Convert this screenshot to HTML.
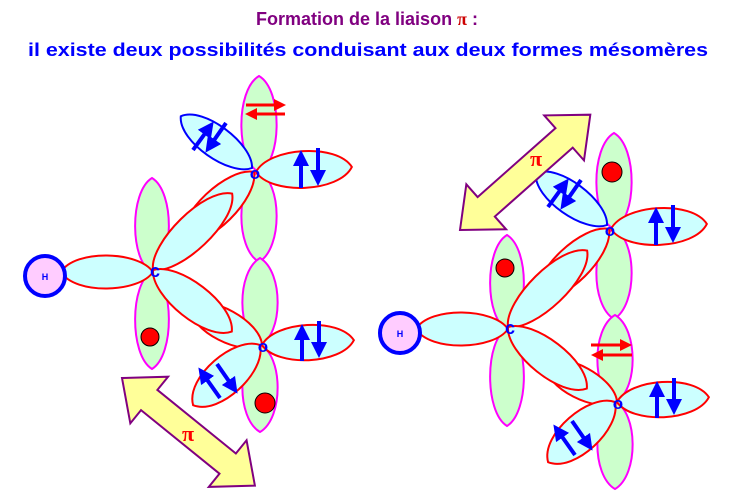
<!DOCTYPE html>
<html><head><meta charset="utf-8"><style>
html,body{margin:0;padding:0;background:#fff;}
svg{display:block;}
</style></head><body>
<svg width="734" height="494" viewBox="0 0 734 494" xmlns="http://www.w3.org/2000/svg">
<defs>
<marker id="bh" markerWidth="4" markerHeight="4" refX="2" refY="2" orient="auto" markerUnits="strokeWidth"><path d="M0,0 L4,2 L0,4 z" fill="#0000ff"/></marker>
<marker id="rh" markerWidth="4" markerHeight="4" refX="2" refY="2" orient="auto" markerUnits="strokeWidth"><path d="M0,0 L4,2 L0,4 z" fill="#ff0000"/></marker>
<g id="mol">
  <g fill="#ccffcc" stroke="#ff00ff" stroke-width="2">
    <path transform="translate(152,272) rotate(-90)" d="M0,0 C10,-22 80,-23 94,0 C80,23 10,22 0,0 Z"/>
    <path transform="translate(152,272) rotate(90)" d="M0,0 C10,-22 83,-23 97,0 C83,23 10,22 0,0 Z"/>
    <path transform="translate(259,172) rotate(-90)" d="M0,0 C10,-23 82,-24 96,0 C82,24 10,23 0,0 Z"/>
    <path transform="translate(259,172) rotate(90)" d="M0,0 C10,-23 76,-24 90,0 C76,24 10,23 0,0 Z"/>
    <path transform="translate(260,345) rotate(-90)" d="M0,0 C10,-23 73,-24 87,0 C73,24 10,23 0,0 Z"/>
    <path transform="translate(260,345) rotate(90)" d="M0,0 C10,-23 73,-24 87,0 C73,24 10,23 0,0 Z"/>
  </g>
  <g fill="#ccffff" stroke="#ff0000" stroke-width="2">
    <path transform="translate(153,272) rotate(180)" d="M0,0 C14,-21 78,-23 92,0 C78,23 14,21 0,0 Z"/>
    <path transform="translate(254,172) rotate(136)" d="M0,0 C15,-22 85,-24 100,0 C85,24 15,22 0,0 Z"/>
    <path transform="translate(153,270) rotate(-44)" d="M0,0 C16,-22 94,-24 110,0 C94,24 16,22 0,0 Z"/>
    <path transform="translate(262,345) rotate(208)" d="M0,0 C12,-20 70,-22 82,0 C70,22 12,20 0,0 Z"/>
    <path transform="translate(153,270) rotate(38)" d="M0,0 C15,-22 85,-24 100,0 C85,24 15,22 0,0 Z"/>
    <path transform="translate(256,172) rotate(-3)" d="M0,0 C14,-24 82,-25 96,0 C82,25 14,24 0,0 Z"/>
    <path transform="translate(262,345) rotate(-3)" d="M0,0 C14,-23 78,-24 92,0 C78,24 14,23 0,0 Z"/>
    <path transform="translate(260,345) rotate(138)" d="M0,0 C13,-24 77,-26 90,0 C77,26 13,24 0,0 Z"/>
  </g>
  <path transform="translate(252,168) rotate(216)" d="M0,0 C13,-20 75,-22 88,0 C75,22 13,20 0,0 Z" fill="#ccffff" stroke="#0000ff" stroke-width="2"/>
  <circle cx="45" cy="276" r="20" fill="#ffccff" stroke="#0000ff" stroke-width="4"/>
  <text x="45" y="280" font-family="Liberation Sans, sans-serif" font-size="9" font-weight="bold" fill="#0000ff" text-anchor="middle">H</text>
  <line x1="301" y1="188" x2="301" y2="158" stroke="#0000ff" stroke-width="4" marker-end="url(#bh)"/>
  <line x1="318" y1="148" x2="318" y2="178" stroke="#0000ff" stroke-width="4" marker-end="url(#bh)"/>
  <line x1="193" y1="150" x2="209" y2="128" stroke="#0000ff" stroke-width="4" marker-end="url(#bh)"/>
  <line x1="226" y1="123" x2="210" y2="146" stroke="#0000ff" stroke-width="4" marker-end="url(#bh)"/>
  <line x1="302" y1="361" x2="302" y2="332" stroke="#0000ff" stroke-width="4" marker-end="url(#bh)"/>
  <line x1="319" y1="321" x2="319" y2="350" stroke="#0000ff" stroke-width="4" marker-end="url(#bh)"/>
  <line x1="220" y1="398" x2="203" y2="374" stroke="#0000ff" stroke-width="4" marker-end="url(#bh)"/>
  <line x1="217" y1="364" x2="233" y2="387" stroke="#0000ff" stroke-width="4" marker-end="url(#bh)"/>
  <text x="155" y="277" font-family="Liberation Sans, sans-serif" font-size="18" font-weight="bold" fill="#0000ff" text-anchor="middle">c</text>
  <text x="255" y="179" font-family="Liberation Sans, sans-serif" font-size="17" font-weight="bold" fill="#0000ff" text-anchor="middle">o</text>
  <text x="263" y="352" font-family="Liberation Sans, sans-serif" font-size="17" font-weight="bold" fill="#0000ff" text-anchor="middle">o</text>
</g>
</defs>

<text x="367" y="25" font-family="Liberation Sans, sans-serif" font-size="18" font-weight="bold" fill="#800080" text-anchor="middle">Formation de la liaison <tspan fill="#cc0000" font-family="Liberation Serif, serif">π</tspan> :</text>
<text x="28" y="56" textLength="680" lengthAdjust="spacingAndGlyphs" font-family="Liberation Sans, sans-serif" font-size="18" font-weight="bold" fill="#0000ff">il existe deux possibilités conduisant aux deux formes mésomères</text>

<use href="#mol"/>
<circle cx="150" cy="337" r="9" fill="#ff0000" stroke="#000" stroke-width="1"/>
<circle cx="265" cy="403" r="10" fill="#ff0000" stroke="#000" stroke-width="1"/>
<line x1="246" y1="105" x2="280" y2="105" stroke="#ff0000" stroke-width="3" marker-end="url(#rh)"/>
<line x1="285" y1="114" x2="251" y2="114" stroke="#ff0000" stroke-width="3" marker-end="url(#rh)"/>
<g transform="translate(122,378) rotate(39)">
  <polygon points="0,0 35,-30 35,-13 136,-13 136,-30 171,0 136,30 136,13 35,13 35,30" fill="#ffff99" stroke="#800080" stroke-width="2"/>
</g>
<text x="188" y="441" font-family="Liberation Serif, serif" font-size="22" font-weight="bold" fill="#ff0000" text-anchor="middle">π</text>

<use href="#mol" transform="translate(355,57)"/>
<circle cx="505" cy="268" r="9" fill="#ff0000" stroke="#000" stroke-width="1"/>
<circle cx="612" cy="172" r="10" fill="#ff0000" stroke="#000" stroke-width="1"/>
<line x1="591" y1="345" x2="626" y2="345" stroke="#ff0000" stroke-width="3" marker-end="url(#rh)"/>
<line x1="632" y1="355" x2="597" y2="355" stroke="#ff0000" stroke-width="3" marker-end="url(#rh)"/>
<g transform="translate(460,230) rotate(-41.5)">
  <polygon points="0,0 35,-30 35,-13 139,-13 139,-30 174,0 139,30 139,13 35,13 35,30" fill="#ffff99" stroke="#800080" stroke-width="2"/>
</g>
<text x="536" y="166" font-family="Liberation Serif, serif" font-size="22" font-weight="bold" fill="#ff0000" text-anchor="middle">π</text>
</svg>
</body></html>
